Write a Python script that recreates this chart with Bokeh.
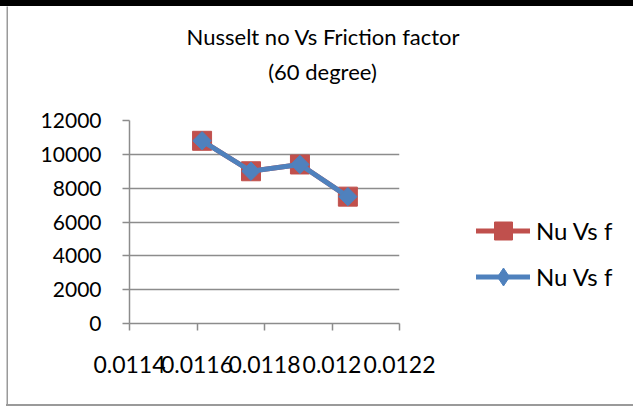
import math
from bokeh.plotting import figure
from bokeh.layouts import row, column
from bokeh.models import Range1d, FixedTicker, Legend, LegendItem, Label, CustomJSTickFormatter, Div
from bokeh.embed import file_html
from bokeh.resources import INLINE

# ---- data ----
friction = [0.011615, 0.01176, 0.011905, 0.012047]
nusselt = [10800, 9000, 9400, 7500]
x_ticks = [0.0114, 0.0116, 0.0118, 0.0120, 0.0122]
x_tick_labels = ["0.0114", "0.0116", "0.0118", "0.012", "0.0122"]
y_ticks = [0, 2000, 4000, 6000, 8000, 10000, 12000]
series_names = ["Nu Vs f", "Nu Vs f"]
title_lines = ["Nusselt no Vs Friction factor", "(60 degree)"]

FONT = "Lato"
RED = "#C0504D"
BLUE = "#4F81BD"
GRAY = "#8c8c8c"
FRAME_GRAY = "#9a9a9a"


def blank(width, height, fill="white", frame_fill="white", **borders):
    f = figure(width=width, height=height, output_backend="svg", toolbar_location=None, tools="",
               title_location=None, x_axis_location=None, y_axis_location=None,
               min_border_left=borders.get("left", 0), min_border_right=borders.get("right", 0),
               min_border_top=borders.get("top", 0), min_border_bottom=borders.get("bottom", 0))
    f.grid.visible = False
    f.outline_line_color = None
    f.border_fill_color = fill
    f.background_fill_color = frame_fill
    return f


# ---- decorative chart-area frame (black bar on top, grey rules left and bottom) ----
top_bar = Div(text="", width=633, height=6, margin=(0, 0, 0, 0),
              styles={"background-color": "black", "padding": "0", "overflow": "hidden",
                      "line-height": "0", "font-size": "0"})
left_rule = blank(8, 398, frame_fill=FRAME_GRAY, left=6)
bottom_rule = Div(text="", width=627, height=2, margin=(0, 0, 4, 6),
                  styles={"background-color": FRAME_GRAY, "padding": "0", "overflow": "hidden",
                          "line-height": "0", "font-size": "0"})

# ---- title strip ----
title_fig = blank(625, 90)
title_fig.x_range = Range1d(8, 633)
title_fig.y_range = Range1d(96, 6)
title_fig.add_layout(Label(x=323, y=36, text=title_lines[0], text_align="center",
                           text_baseline="alphabetic", text_font=FONT, text_font_size="22px",
                           text_color="black"))
title_fig.add_layout(Label(x=322, y=71, text=title_lines[1], text_align="center",
                           text_baseline="alphabetic", text_font=FONT, text_font_size="22px",
                           text_color="black"))

# ---- main chart ----
p = figure(width=458, height=308, output_backend="svg", toolbar_location=None, tools="",
           title_location=None,
           x_range=Range1d(x_ticks[0], x_ticks[-1]), y_range=Range1d(y_ticks[0], y_ticks[-1]),
           min_border_left=121, min_border_right=67, min_border_top=24, min_border_bottom=81)
p.outline_line_color = None
p.background_fill_color = "white"
p.border_fill_color = "white"

p.line(friction, nusselt, line_color=RED, line_width=5, line_cap="round")
p.scatter(friction, nusselt, marker="square", size=19, fill_color=RED, line_color=RED)
p.line(friction, nusselt, line_color=BLUE, line_width=5, line_cap="round", line_join="round")
p.scatter(friction, nusselt, marker="square", angle=math.pi / 4, size=13,
          fill_color=BLUE, line_color=BLUE)

p.xaxis.ticker = FixedTicker(ticks=x_ticks)
p.xaxis.formatter = CustomJSTickFormatter(args=dict(xt=x_ticks, xl=x_tick_labels), code="""
    const i = xt.findIndex(t => Math.abs(t - tick) < 1e-9);
    return i >= 0 ? xl[i] : String(tick);
""")
p.yaxis.ticker = FixedTicker(ticks=y_ticks)
for ax in (p.xaxis[0], p.yaxis[0]):
    ax.axis_line_color = GRAY
    ax.axis_line_width = 1.5
    ax.major_tick_line_color = GRAY
    ax.major_tick_line_width = 1.5
    ax.major_tick_in = 0
    ax.major_tick_out = 7
    ax.minor_tick_line_color = None
    ax.major_label_text_font = FONT
    ax.major_label_text_color = "black"
p.xaxis[0].major_label_text_font_size = "23px"
p.xaxis[0].major_label_standoff = 25
p.yaxis[0].major_label_text_font_size = "21px"
p.yaxis[0].major_label_standoff = 21
p.xgrid.visible = False
p.ygrid.grid_line_color = GRAY
p.ygrid.grid_line_width = 1.5

# ---- legend panel (key glyphs styled like the series) ----
leg_fig = blank(167, 308)
leg_fig.x_range = Range1d(0, 1)
leg_fig.y_range = Range1d(0, 1)
nan = float("nan")
k_red_line = leg_fig.line([nan], [nan], line_color=RED, line_width=5, line_cap="round")
k_red_mk = leg_fig.scatter([nan], [nan], marker="square", fill_color=RED, line_color=RED)
k_blue_line = leg_fig.line([nan], [nan], line_color=BLUE, line_width=5, line_cap="round")
k_blue_mk = leg_fig.scatter([nan], [nan], marker="diamond", fill_color=BLUE, line_color=BLUE)
legend = Legend(items=[LegendItem(label=series_names[0], renderers=[k_red_line, k_red_mk]),
                       LegendItem(label=series_names[1], renderers=[k_blue_line, k_blue_mk])],
                location=(10, 24), glyph_width=54, glyph_height=45, label_standoff=6,
                padding=0, margin=0, spacing=1, border_line_color=None, background_fill_alpha=0,
                label_text_font=FONT, label_text_font_size="24px", label_text_color="black")
leg_fig.add_layout(legend)

layout = column(top_bar,
                row(left_rule, column(title_fig, row(p, leg_fig))),
                bottom_rule)

open("out.html", "w").write(file_html(layout, INLINE))
